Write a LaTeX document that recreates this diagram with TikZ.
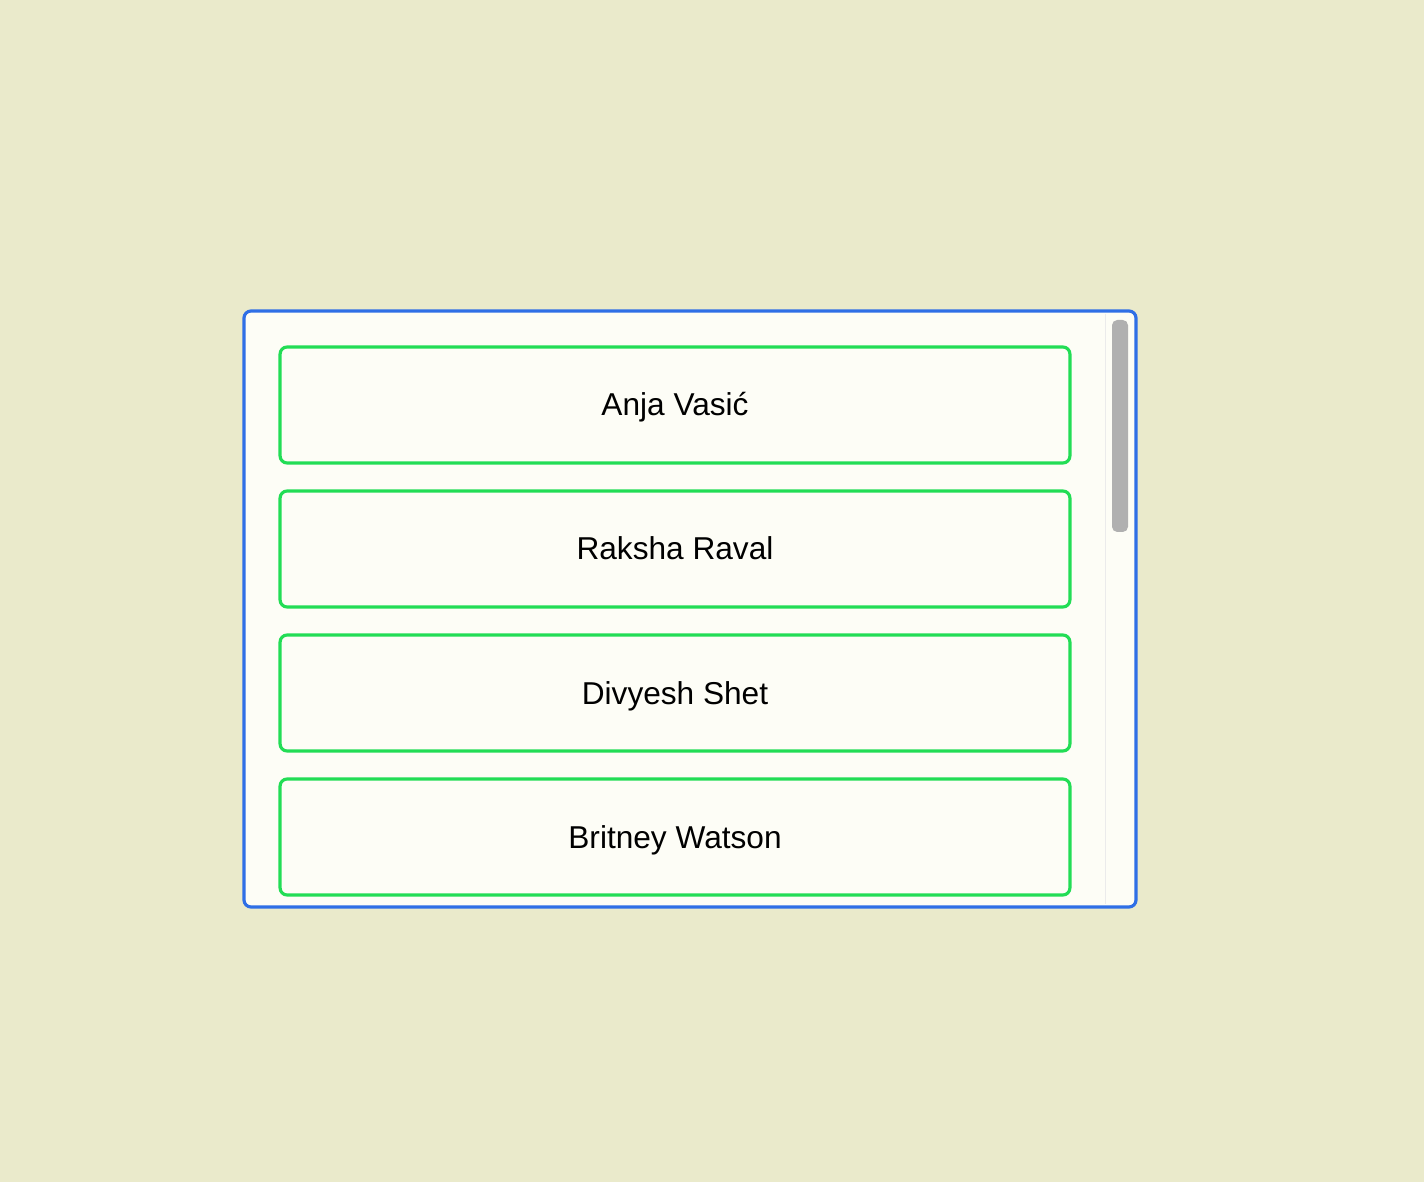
\documentclass[tikz,border=0pt]{standalone}
\usepackage{fontspec}
\setmainfont{Liberation Sans}
\usetikzlibrary{positioning}
\definecolor{bgBeige}{HTML}{EAEACB}
\definecolor{panelBlue}{HTML}{2F6FE6}
\definecolor{cardGreen}{HTML}{22DD55}
\definecolor{panelFill}{HTML}{FDFDF6}
\definecolor{thumbGray}{HTML}{B0B0B0}
\tikzset{
    panel/.style={draw=panelBlue, line width=1.8pt, fill=panelFill, rounded corners=4pt},
    card/.style={draw=cardGreen, line width=1.8pt, rounded corners=4pt, minimum width=15.8cm, minimum height=2.32cm, inner sep=0pt},
    cardtext/.style={font=\fontsize{18}{21}\selectfont, text=black, inner sep=0pt},
    thumb/.style={fill=thumbGray, rounded corners=3pt},
}
\begin{document}
\begin{tikzpicture}[x=0.02cm, y=-0.02cm]
        \fill[bgBeige] (0,0) rectangle (1424,1182);
        \useasboundingbox (0,0) rectangle (1424,1182);
        
        \draw[panel] (244,311) rectangle (1136,907);
        \draw[black!8] (1105,314) -- (1105,904);
        \fill[thumb] (1112,320) rectangle (1128,532);
        
        \node[card] (anja) at (675,405) {};
        \node[card] (raksha) at (675,549) {};
        \node[card] (divyesh) at (675,693) {};
        \node[card] (britney) at (675,837) {};
        \node[cardtext, anchor=base] at (675,416) {Anja Vasić};
        \node[cardtext, anchor=base] at (675,560) {Raksha Raval};
        \node[cardtext, anchor=base] at (675,704) {Divyesh Shet};
        \node[cardtext, anchor=base] at (675,848) {Britney Watson};
        
    \end{tikzpicture}
\end{document}
